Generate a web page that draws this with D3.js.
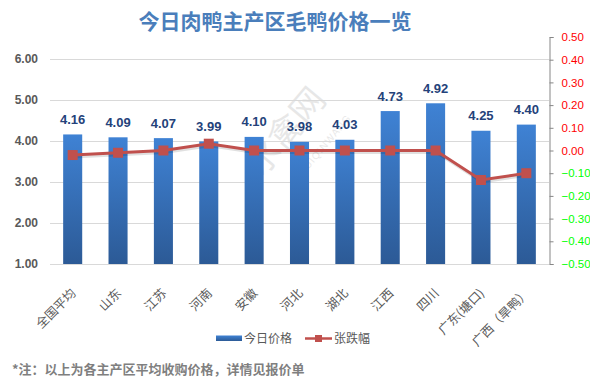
<!DOCTYPE html>
<html><head><meta charset="utf-8">
<script src="https://cdn.jsdelivr.net/npm/d3@7/dist/d3.min.js"></script>
<style>body{margin:0;background:#fff;}svg{display:block;}</style>
</head><body>
<script>
const categories = ["全国平均","山东","江苏","河南","安徽","河北","湖北","江西","四川","广东(塘口)","广西（旱鸭）"];
const prices = [4.16,4.09,4.07,3.99,4.10,3.98,4.03,4.73,4.92,4.25,4.40];
const changes = [-0.02,-0.01,0.00,0.03,0.00,0.00,0.00,0.00,0.00,-0.13,-0.10];
const leftTicks = [1,2,3,4,5,6];
const rightTicks = [0.5,0.4,0.3,0.2,0.1,0,-0.1,-0.2,-0.3,-0.4,-0.5];

const W=590,H=389;
const svg=d3.select("body").append("svg").attr("width",W).attr("height",H);
const cjk="'Noto Sans CJK SC','Microsoft YaHei',sans-serif";
const num="'Liberation Sans',Arial,sans-serif";

const defs=svg.append("defs");
const g1=defs.append("linearGradient").attr("id","barg").attr("x1",0).attr("y1",0).attr("x2",0).attr("y2",1);
g1.append("stop").attr("offset","0%").attr("stop-color","#3f82d4");
g1.append("stop").attr("offset","100%").attr("stop-color","#2c5a96");

const x=d3.scaleBand().domain(categories).range([50,549]).paddingInner(0.58).paddingOuter(0.29);
const y=d3.scaleLinear().domain([1,6]).range([264,59]);
const y2=d3.scaleLinear().domain([-0.5,0.5]).range([264,37]);

// watermark
const wm=svg.append("g").attr("opacity",0.09);
wm.append("text").attr("transform","translate(262,178) rotate(-50)").attr("font-family",cjk).attr("font-size",34).attr("fill","#000").text("水禽网");
wm.append("text").attr("transform","translate(298,182) rotate(-50)").attr("font-family",num).attr("font-size",10).attr("fill","#000").attr("letter-spacing",1).text("SHUIQINWANG");

// gridlines
svg.append("g").selectAll("line").data(leftTicks).join("line")
 .attr("x1",50).attr("x2",549).attr("y1",d=>y(d)+0.5).attr("y2",d=>y(d)+0.5)
 .attr("stroke","#d9d9d9").attr("stroke-width",1);

// left axis labels
const la=svg.append("g").attr("transform","translate(50,0)")
 .call(d3.axisLeft(y).tickValues(leftTicks).tickFormat(d3.format(".2f")).tickSize(0).tickPadding(12));
la.select(".domain").remove();
la.selectAll("text").attr("font-family",num).attr("font-size",12).attr("font-weight","bold").attr("fill","#595959");

// right axis
const ra=svg.append("g").attr("transform","translate(549.5,0)")
 .call(d3.axisRight(y2).tickValues(rightTicks).tickFormat(d3.format(".2f")).tickSizeOuter(4).tickSizeInner(4).tickPadding(8));
ra.select(".domain").attr("stroke","#868686");
ra.selectAll(".tick line").attr("stroke","#868686");
ra.selectAll("text").attr("font-family",num).attr("font-size",11.5).attr("fill",d=>d<0?"#00ff00":"#ff0000");

// bars
svg.append("g").selectAll("rect").data(prices).join("rect")
 .attr("x",(d,i)=>x(categories[i])).attr("width",x.bandwidth())
 .attr("y",d=>y(d)).attr("height",d=>y(1)-y(d)).attr("fill","url(#barg)");

// data labels
svg.append("g").selectAll("text").data(prices).join("text")
 .attr("x",(d,i)=>x(categories[i])+x.bandwidth()/2).attr("y",d=>y(d)-10.5)
 .attr("text-anchor","middle").attr("font-family",num).attr("font-size",13).attr("font-weight","bold")
 .attr("fill","#24427a").text(d=>d.toFixed(2));

// line
const cx=(i)=>x(categories[i])+x.bandwidth()/2;
const line=d3.line().x((d,i)=>cx(i)).y(d=>y2(d));
svg.append("path").datum(changes).attr("d",line).attr("fill","none").attr("stroke","#000").attr("stroke-opacity",0.12).attr("stroke-width",3).attr("transform","translate(1,2)");
svg.append("path").datum(changes).attr("d",line).attr("fill","none").attr("stroke","#c0504d").attr("stroke-width",3);
svg.append("g").selectAll("rect").data(changes).join("rect")
 .attr("x",(d,i)=>cx(i)-5).attr("y",d=>y2(d)-5).attr("width",10).attr("height",10).attr("fill","#c0504d");

// x labels
svg.append("g").selectAll("text").data(categories).join("text")
 .attr("transform",(d,i)=>`translate(${cx(i)+4},${294}) rotate(-45)`)
 .attr("text-anchor","end").attr("font-family",cjk).attr("font-size",12.5).attr("fill","#595959").text(d=>d);

// title
svg.append("text").attr("x",275).attr("y",29).attr("text-anchor","middle")
 .attr("font-family",cjk).attr("font-size",21).attr("font-weight","bold").attr("fill","#4a7ebb")
 .text("今日肉鸭主产区毛鸭价格一览");

// legend
const lg=svg.append("g");
lg.append("rect").attr("x",216).attr("y",335.5).attr("width",26).attr("height",5.5).attr("fill","url(#barg)");
lg.append("text").attr("x",244).attr("y",342.5).attr("font-family",cjk).attr("font-size",12).attr("fill","#595959").text("今日价格");
lg.append("line").attr("x1",305).attr("x2",332).attr("y1",338.5).attr("y2",338.5).attr("stroke","#c0504d").attr("stroke-width",2.5);
lg.append("rect").attr("x",315).attr("y",335).attr("width",7).attr("height",7).attr("fill","#c0504d");
lg.append("text").attr("x",334).attr("y",342.5).attr("font-family",cjk).attr("font-size",12).attr("fill","#595959").text("张跌幅");

// footnote
svg.append("text").attr("x",12).attr("y",374).attr("font-family",cjk).attr("font-size",13).attr("font-weight","bold").attr("fill","#7f7f7f")
 .text("*注：以上为各主产区平均收购价格，详情见报价单");
</script>
</body></html>
